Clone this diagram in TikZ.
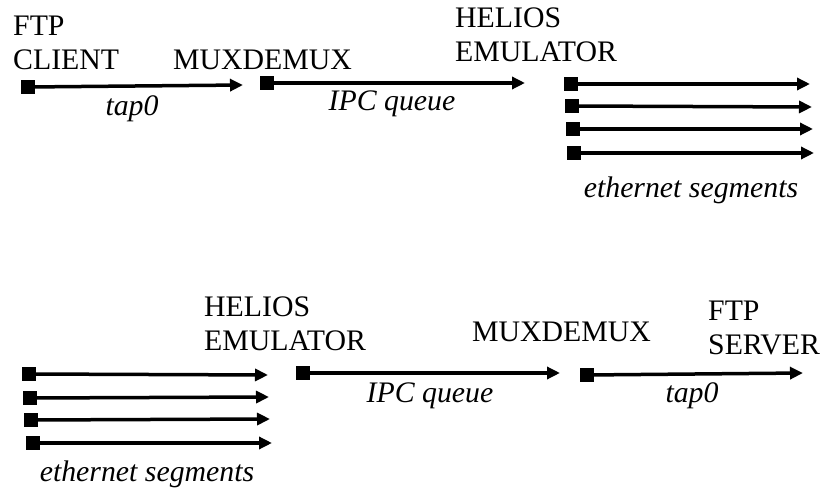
\documentclass[tikz,border=0pt]{standalone}
\usepackage{fontspec}
\setmainfont{Liberation Serif}
\usetikzlibrary{arrows.meta}
\begin{document}
\begin{tikzpicture}[x=1pt,y=-1pt,
  lbl/.style={inner sep=0pt, anchor=base west, align=left, font=\fontsize{29.8}{34.5}\selectfont},
  linklabel/.style={inner sep=0pt, anchor=base, font=\fontsize{29.8}{34.5}\selectfont\itshape},
  port/.style={fill=black, minimum size=14pt, inner sep=0pt, draw=none},
  link/.style={line width=3.5pt, -{Triangle[length=13pt,width=12pt]}}]
\useasboundingbox (0,0) rectangle (828,494);

% ---- upper chain: client side ----
% (the base anchor of a two-line label sits on its last line)
\node[lbl] (client) at (13,70) {FTP\\CLIENT};
\coordinate (e1) at (243,85);
\node[port] (p1) at (28,87) {};
\draw[link] (p1.center) -- (e1);
\node[port] at (p1) {};
\node[linklabel] (tap1) at (132,116) {tap0};

\node[lbl] (mux1) at (173,70) {MUXDEMUX};
\node[port] (p2) at (267,83) {};
\coordinate (e2) at (525,83);
\draw[link] (p2.center) -- (e2);
\node[port] at (p2) {};
\node[linklabel] (ipc1) at (392,111) {IPC queue};

\node[lbl] (hel1) at (455,62) {HELIOS\\EMULATOR};
\foreach \i/\px/\py/\ex/\ey in {a/571/84/810/84, b/572/106/812/107, c/573/129/813/129, d/574/153/814/153}{
  \node[port] (s1\i) at (\px,\py) {};
  \coordinate (f1\i) at (\ex,\ey);
  \draw[link] (s1\i.center) -- (f1\i);
  \node[port] at (s1\i) {};
}
\node[linklabel] (eth1) at (691,198) {ethernet segments};

% ---- lower chain: server side ----
\foreach \i/\px/\py/\ex/\ey in {a/29/374/268/375, b/30/398/269/397, c/31/420/270/419, d/33/443/272/443}{
  \node[port] (s2\i) at (\px,\py) {};
  \coordinate (f2\i) at (\ex,\ey);
  \draw[link] (s2\i.center) -- (f2\i);
  \node[port] at (s2\i) {};
}
\node[linklabel] (eth2) at (147,481) {ethernet segments};

\node[lbl] (hel2) at (204,351) {HELIOS\\EMULATOR};
\node[port] (p3) at (303,373) {};
\coordinate (e3) at (560,373);
\draw[link] (p3.center) -- (e3);
\node[port] at (p3) {};
\node[linklabel] (ipc2) at (430,403) {IPC queue};

\node[lbl] (mux2) at (472,342) {MUXDEMUX};
\node[port] (p4) at (587,375) {};
\coordinate (e4) at (803,373);
\draw[link] (p4.center) -- (e4);
\node[port] at (p4) {};
\node[linklabel] (tap2) at (692,403) {tap0};

\node[lbl] (server) at (708,355) {FTP\\SERVER};
\end{tikzpicture}
\end{document}
